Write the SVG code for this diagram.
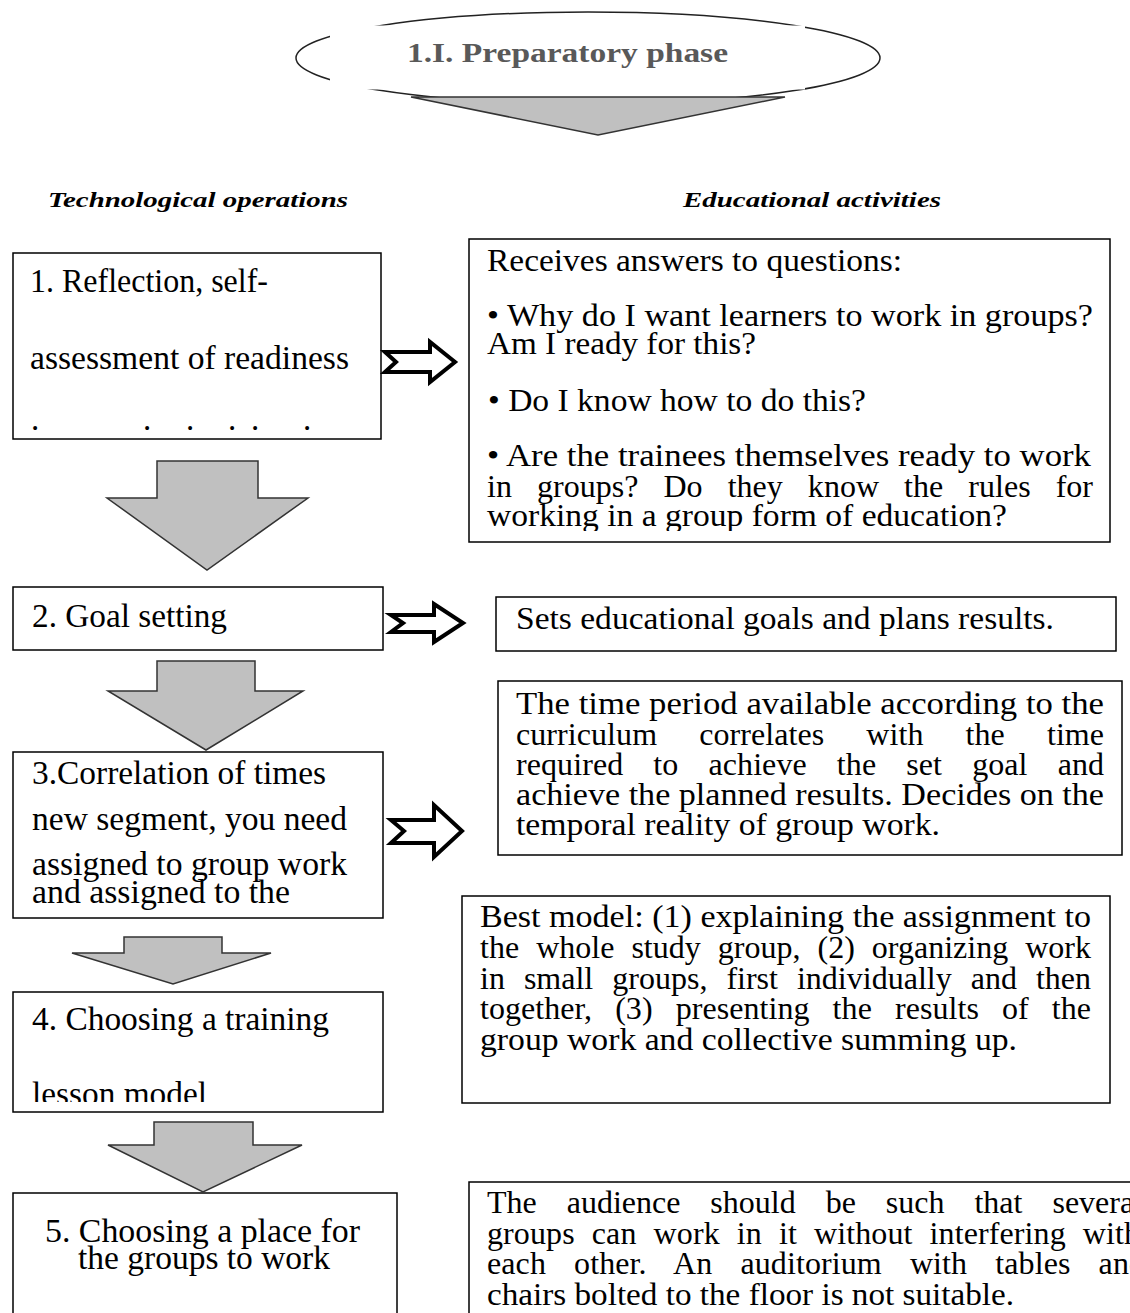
<svg xmlns="http://www.w3.org/2000/svg" width="1130" height="1313" viewBox="0 0 1130 1313">
<style>
.box{fill:#fff;stroke:#000;stroke-width:1.5}
.t{font-family:"Liberation Serif","Times New Roman",serif;font-size:33px;fill:#000}
.r{font-family:"Liberation Serif","Times New Roman",serif;font-size:32px;fill:#000}
.hd{font-family:"Liberation Serif","Times New Roman",serif;font-size:22px;font-style:italic;font-weight:bold;fill:#000}
.down{fill:#c0c0c0;stroke:#333;stroke-width:1.5;stroke-linejoin:miter}
.ra{fill:#fff;stroke:#000;stroke-width:4;stroke-linejoin:miter}
</style>
<defs>
<clipPath id="c1"><rect x="13" y="253" width="368" height="179"/></clipPath>
<clipPath id="c4"><rect x="13" y="992" width="370" height="110"/></clipPath>
<clipPath id="cr1"><rect x="469" y="239" width="641" height="292"/></clipPath>
</defs>
<rect width="1130" height="1313" fill="#fff"/>

<g id="phase">
<ellipse cx="588" cy="58" rx="292" ry="46" fill="#fff" stroke="#222" stroke-width="1.5"/>
<rect x="330" y="25.5" width="475" height="64" fill="#fff"/>
<polygon class="down" points="411,97 785,97 598,135"/>
<text x="407" y="62" font-family="'Liberation Serif','Times New Roman',serif" font-size="28" font-weight="bold" fill="#595959" textLength="321" lengthAdjust="spacingAndGlyphs">1.I. Preparatory phase</text>
</g>

<g id="headers">
<text class="hd" x="48" y="207" textLength="300" lengthAdjust="spacingAndGlyphs">Technological operations</text>
<text class="hd" x="683" y="207" textLength="258" lengthAdjust="spacingAndGlyphs">Educational activities</text>
</g>

<g id="step1">
<rect class="box" x="13" y="253" width="368" height="186"/>
<g clip-path="url(#c1)">
<text class="t" x="30" y="292" textLength="238" lengthAdjust="spacingAndGlyphs">1. Reflection, self-</text>
<text class="t" x="30" y="369" textLength="319" lengthAdjust="spacingAndGlyphs">assessment of readiness</text>
<text class="t" y="430" font-size="24"><tspan x="31">.</tspan><tspan x="143">.</tspan><tspan x="186">.</tspan><tspan x="228">.</tspan><tspan x="251">.</tspan><tspan x="303">.</tspan></text>
</g>
</g>

<g id="step2">
<rect class="box" x="13" y="587" width="370" height="63"/>
<text class="t" x="32" y="627" textLength="195" lengthAdjust="spacingAndGlyphs">2. Goal setting</text>
</g>

<g id="step3">
<rect class="box" x="13" y="752" width="370" height="166"/>
<text class="t" x="32" y="784" textLength="294" lengthAdjust="spacingAndGlyphs">3.Correlation of times</text>
<text class="t" x="32" y="830" textLength="315" lengthAdjust="spacingAndGlyphs">new segment, you need</text>
<text class="t" x="32" y="875" textLength="315" lengthAdjust="spacingAndGlyphs">assigned to group work</text>
<text class="t" x="32" y="903" textLength="258" lengthAdjust="spacingAndGlyphs">and assigned to the</text>
</g>

<g id="step4">
<rect class="box" x="13" y="992" width="370" height="120"/>
<g clip-path="url(#c4)">
<text class="t" x="32" y="1030" textLength="297" lengthAdjust="spacingAndGlyphs">4. Choosing a training</text>
<text class="t" x="32" y="1105" textLength="175" lengthAdjust="spacingAndGlyphs">lesson model</text>
</g>
</g>

<g id="step5">
<rect class="box" x="13" y="1193" width="384" height="140"/>
<text class="t" x="45" y="1242" textLength="315" lengthAdjust="spacingAndGlyphs">5. Choosing a place for</text>
<text class="t" x="78" y="1269" textLength="252" lengthAdjust="spacingAndGlyphs">the groups to work</text>
</g>

<g id="activity1">
<rect class="box" x="469" y="239" width="641" height="303"/>
<g clip-path="url(#cr1)">
<text class="r" x="487" y="271" textLength="415" lengthAdjust="spacingAndGlyphs">Receives answers to questions:</text>
<text class="r" x="487" y="326" textLength="606" lengthAdjust="spacingAndGlyphs">• Why do I want learners to work in groups?</text>
<text class="r" x="487" y="354" textLength="269" lengthAdjust="spacingAndGlyphs">Am I ready for this?</text>
<text class="r" x="488" y="411" textLength="378" lengthAdjust="spacingAndGlyphs">• Do I know how to do this?</text>
<text class="r" x="487" y="466" textLength="604" lengthAdjust="spacingAndGlyphs">• Are the trainees themselves ready to work</text>
<text class="r" x="487" y="497" word-spacing="17" textLength="606" lengthAdjust="spacing">in groups? Do they know the rules for</text>
<text class="r" x="487" y="526" textLength="520" lengthAdjust="spacingAndGlyphs">working in a group form of education?</text>
</g>
</g>

<g id="activity2">
<rect class="box" x="496" y="597" width="620" height="54"/>
<text class="r" x="516" y="629" textLength="538" lengthAdjust="spacingAndGlyphs">Sets educational goals and plans results.</text>
</g>

<g id="activity3">
<rect class="box" x="498" y="681" width="624" height="174"/>
<text class="r" x="516" y="714" textLength="588" lengthAdjust="spacingAndGlyphs">The time period available according to the</text>
<text class="r" x="516" y="745" word-spacing="34" textLength="588" lengthAdjust="spacing">curriculum correlates with the time</text>
<text class="r" x="516" y="775" word-spacing="22" textLength="588" lengthAdjust="spacing">required to achieve the set goal and</text>
<text class="r" x="516" y="805" textLength="588" lengthAdjust="spacingAndGlyphs">achieve the planned results. Decides on the</text>
<text class="r" x="516" y="835" textLength="424" lengthAdjust="spacingAndGlyphs">temporal reality of group work.</text>
</g>

<g id="activity4">
<rect class="box" x="462" y="896" width="648" height="207"/>
<text class="r" x="480" y="927" textLength="611" lengthAdjust="spacingAndGlyphs">Best model: (1) explaining the assignment to</text>
<text class="r" x="480" y="958" word-spacing="9" textLength="611" lengthAdjust="spacing">the whole study group, (2) organizing work</text>
<text class="r" x="480" y="989" word-spacing="11" textLength="611" lengthAdjust="spacing">in small groups, first individually and then</text>
<text class="r" x="480" y="1019" word-spacing="15" textLength="611" lengthAdjust="spacing">together, (3) presenting the results of the</text>
<text class="r" x="480" y="1050" textLength="537" lengthAdjust="spacingAndGlyphs">group work and collective summing up.</text>
</g>

<g id="activity5">
<rect class="box" x="469" y="1182" width="680" height="150"/>
<text class="r" x="487" y="1213" word-spacing="22" textLength="656" lengthAdjust="spacing">The audience should be such that several</text>
<text class="r" x="487" y="1244" word-spacing="9" textLength="653" lengthAdjust="spacing">groups can work in it without interfering with</text>
<text class="r" x="487" y="1274" word-spacing="20" textLength="658" lengthAdjust="spacing">each other. An auditorium with tables and</text>
<text class="r" x="487" y="1305" textLength="527" lengthAdjust="spacingAndGlyphs">chairs bolted to the floor is not suitable.</text>
</g>

<g id="connectors">
<polygon class="down" points="157,461 258,461 258,498 308,498 207,570 107,498 157,498"/>
<polygon class="down" points="157,661 255,661 255,691 303,691 206,750 108,691 157,691"/>
<polygon class="down" points="124,937 222,937 222,953 271,953 173,984 72,953 124,953"/>
<polygon class="down" points="154,1122 253,1122 253,1145 302,1145 203,1192 108,1145 154,1145"/>
<polygon class="ra" points="385,352 430,352 430,342 455,362 430,382 430,372 385,372 396,362"/>
<polygon class="ra" points="391,615 434,615 434,604 463,623 434,642 434,632 391,632 403,623"/>
<polygon class="ra" points="391,820 434,820 434,805 462,831 434,857 434,843 391,843 404,831"/>
</g>
</svg>
